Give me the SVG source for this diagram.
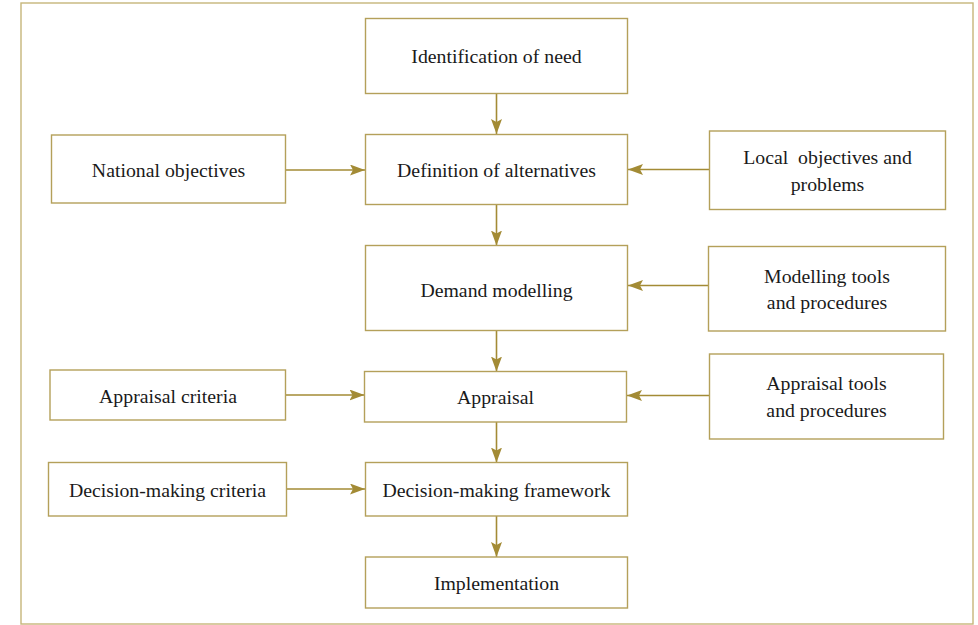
<svg xmlns="http://www.w3.org/2000/svg" width="978" height="625" viewBox="0 0 978 625">
  <style>
    .box { fill: #ffffff; stroke: #B4A05A; stroke-width: 1.4; }
    .frame { fill: #ffffff; stroke: #C6B67A; stroke-width: 1.4; }
    .lbl { font-family: "Liberation Serif", "Times New Roman", serif; font-size: 19.8px; fill: #1a1a1a; text-anchor: middle; }
    .conn { fill: none; stroke: #A38B35; stroke-width: 1.6; }
  </style>
  <defs>
    <marker id="arrow" markerUnits="userSpaceOnUse" markerWidth="16" markerHeight="12" refX="15" refY="5.5" orient="auto">
      <path d="M0,0 L15,5.5 L0,11 L3,5.5 z" fill="#A38B35"/>
    </marker>
  </defs>

  <!-- outer frame -->
  <rect class="frame" x="21" y="3" width="952" height="621"/>

  <!-- connectors -->
  <g id="connectors">
    <line class="conn" x1="496.5" y1="94" x2="496.5" y2="134" marker-end="url(#arrow)"/>
    <line class="conn" x1="496.5" y1="205" x2="496.5" y2="245.5" marker-end="url(#arrow)"/>
    <line class="conn" x1="496.5" y1="330.5" x2="496.5" y2="371.5" marker-end="url(#arrow)"/>
    <line class="conn" x1="496.5" y1="422" x2="496.5" y2="462.5" marker-end="url(#arrow)"/>
    <line class="conn" x1="496.5" y1="516" x2="496.5" y2="557" marker-end="url(#arrow)"/>
    <line class="conn" x1="286" y1="170" x2="365" y2="170" marker-end="url(#arrow)"/>
    <line class="conn" x1="286" y1="395" x2="364.5" y2="395" marker-end="url(#arrow)"/>
    <line class="conn" x1="287" y1="489" x2="365" y2="489" marker-end="url(#arrow)"/>
    <line class="conn" x1="709" y1="169.5" x2="628" y2="169.5" marker-end="url(#arrow)"/>
    <line class="conn" x1="708" y1="285.5" x2="628" y2="285.5" marker-end="url(#arrow)"/>
    <line class="conn" x1="709" y1="395.5" x2="627" y2="395.5" marker-end="url(#arrow)"/>
  </g>

  <!-- main chain -->
  <g id="identification">
    <rect class="box" x="365.5" y="18.5" width="262" height="75"/>
    <text class="lbl" x="496.5" y="62.5">Identification of need</text>
  </g>
  <g id="definition">
    <rect class="box" x="365.5" y="134.5" width="262" height="70"/>
    <text class="lbl" x="496.5" y="176.5">Definition of alternatives</text>
  </g>
  <g id="demand">
    <rect class="box" x="365.5" y="245.5" width="262" height="85"/>
    <text class="lbl" x="496.5" y="296.5">Demand modelling</text>
  </g>
  <g id="appraisal">
    <rect class="box" x="364.5" y="371.5" width="262" height="50.5"/>
    <text class="lbl" x="495.5" y="403.5">Appraisal</text>
  </g>
  <g id="framework">
    <rect class="box" x="365.5" y="462.5" width="262" height="53.5"/>
    <text class="lbl" x="496.5" y="496.5">Decision-making framework</text>
  </g>
  <g id="implementation">
    <rect class="box" x="365.5" y="557" width="262" height="51"/>
    <text class="lbl" x="496.5" y="590">Implementation</text>
  </g>

  <!-- left inputs -->
  <g id="national">
    <rect class="box" x="51.5" y="135" width="234" height="68"/>
    <text class="lbl" x="168.5" y="176.5">National objectives</text>
  </g>
  <g id="appraisal-criteria">
    <rect class="box" x="50" y="370" width="235.5" height="50"/>
    <text class="lbl" x="168" y="402.5">Appraisal criteria</text>
  </g>
  <g id="decision-criteria">
    <rect class="box" x="48.5" y="462.5" width="238" height="53.5"/>
    <text class="lbl" x="167.5" y="496.5">Decision-making criteria</text>
  </g>

  <!-- right inputs -->
  <g id="local">
    <rect class="box" x="709.5" y="131" width="236" height="78.5"/>
    <text class="lbl" x="827.5" y="164" xml:space="preserve">Local  objectives and</text>
    <text class="lbl" x="827.5" y="191">problems</text>
  </g>
  <g id="modelling-tools">
    <rect class="box" x="708.5" y="246.5" width="237" height="84.5"/>
    <text class="lbl" x="827" y="282.5">Modelling tools</text>
    <text class="lbl" x="827" y="309">and procedures</text>
  </g>
  <g id="appraisal-tools">
    <rect class="box" x="709.5" y="354" width="234" height="85"/>
    <text class="lbl" x="826.5" y="390">Appraisal tools</text>
    <text class="lbl" x="826.5" y="417">and procedures</text>
  </g>
</svg>
